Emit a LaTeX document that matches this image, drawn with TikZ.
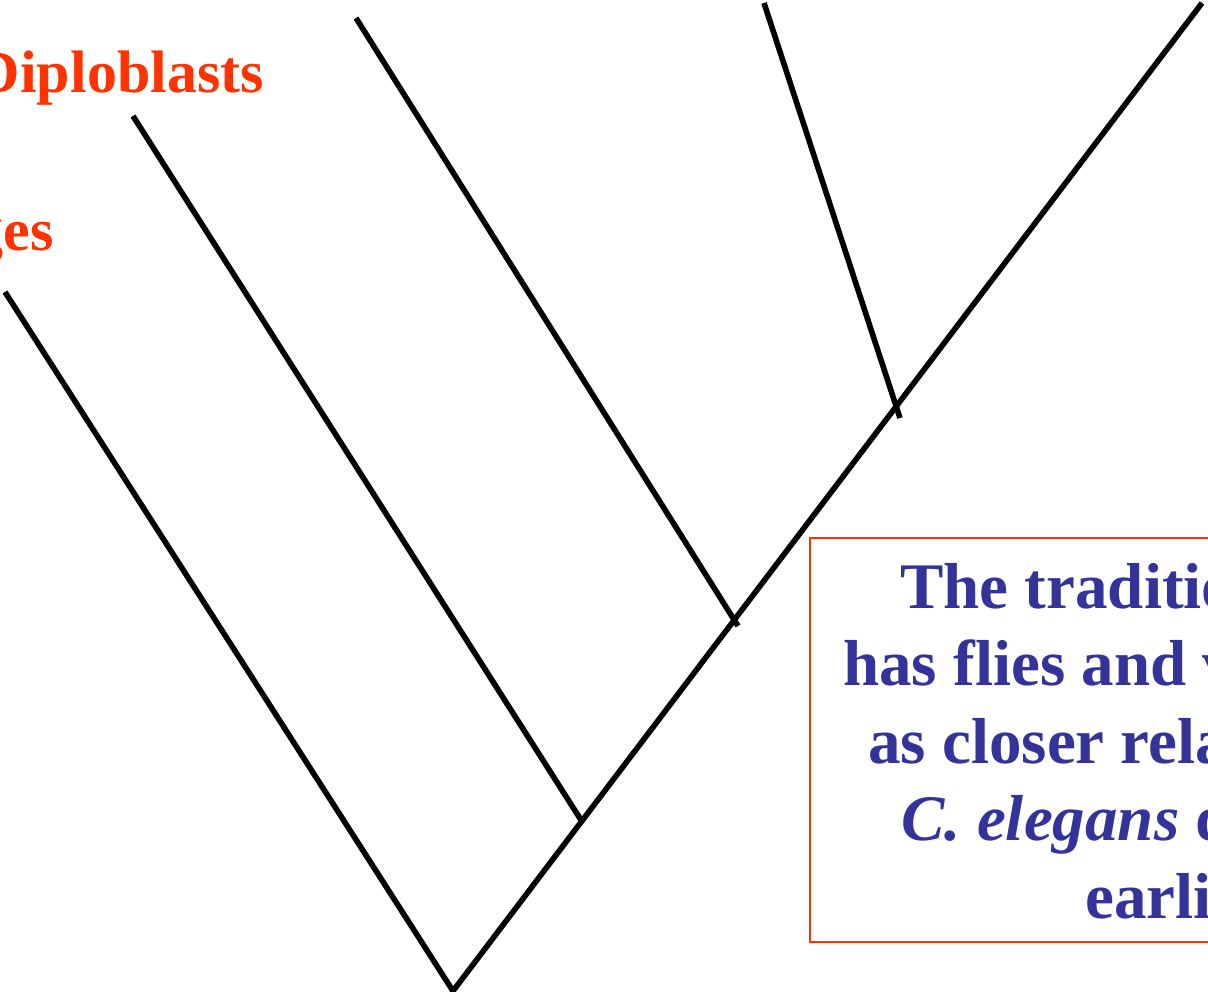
\documentclass[tikz,border=0pt]{standalone}
\usepackage{fontspec}
\setmainfont{Liberation Serif}
\usetikzlibrary{positioning}
\definecolor{taxon}{HTML}{FF3300}
\definecolor{note}{HTML}{333399}

\begin{document}
\begin{tikzpicture}[x=0.75pt,y=-0.75pt,
  branch/.style={draw=black,line width=4.2pt,line join=miter},
  taxon/.style={font=\fontsize{45}{54}\selectfont\bfseries,text=taxon,inner sep=0pt,anchor=base east},
  noteline/.style={font=\fontsize{48.75}{58}\selectfont\bfseries,text=note,inner sep=0pt,anchor=base west},
  notebox/.style={draw=taxon,line width=1.3pt,inner sep=0pt,anchor=north west}]
  \useasboundingbox (0,0) rectangle (1208,992);
  \clip (0,0) rectangle (1208,992);
  % tree: root and inner nodes along the main stem
  \coordinate (root) at (453,991);
  \coordinate (n1) at (581,820);
  \coordinate (n2) at (738,626);
  \coordinate (n3) at (900,418);
  \coordinate (sponge) at (5,292);
  \coordinate (diplo) at (133,116);
  \coordinate (leafc) at (356,18);
  \coordinate (leafd) at (764,3);
  \coordinate (leafe) at (1202,3);
  \draw[branch] (sponge) -- (root) -- (leafe);
  \draw[branch] (diplo) -- (n1);
  \draw[branch] (leafc) -- (n2);
  \draw[branch] (leafd) -- (n3);
  % taxon labels
  \node[taxon] (diplolab) at (264,92) {Diploblasts};
  \node[taxon] (spongelab) at (54,250) {Sponges};
  % note box
  \node[notebox,minimum width=330pt,minimum height=303pt] (box) at (809,537) {};
  \node[noteline] (l1) at (900,608) {The traditional tree};
  \node[noteline] (l2) at (843,685.5) {has flies and vertebrates};
  \node[noteline] (l3) at (868,763) {as closer relatives;};
  \node[noteline] (l4) at (901,840.5) {\textit{C. elegans} diverged};
  \node[noteline] (l5) at (1085,918) {earlier};
\end{tikzpicture}
\end{document}
